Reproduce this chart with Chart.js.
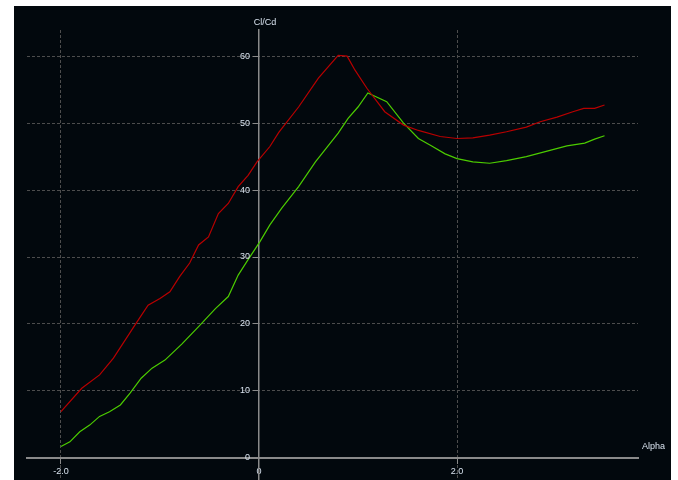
<!DOCTYPE html>
<html>
<head>
<meta charset="utf-8">
<title>Cl/Cd vs Alpha</title>
<script src="https://cdn.jsdelivr.net/npm/chart.js@4.4.1/dist/chart.umd.min.js"></script>
<style>
  html, body { margin: 0; padding: 0; background: #ffffff; overflow: hidden; }
  #wrap { position: absolute; left: 14px; top: 6px; width: 657px; height: 474px; background: #02080d; }
</style>
</head>
<body>
<div id="wrap"><canvas id="polarChart" width="657" height="474"></canvas></div>
<script>
// Cl/Cd polars, two runs
const alphaRed = [-2.0, -1.79, -1.61, -1.47, -1.25, -1.12, -1.0, -0.9, -0.8, -0.7, -0.61, -0.51, -0.41, -0.31, -0.21, -0.11, -0.02, 0.11, 0.2, 0.4, 0.6, 0.8, 0.89, 0.97, 1.09, 1.27, 1.46, 1.61, 1.83, 2.0, 2.16, 2.33, 2.5, 2.7, 2.84, 3.01, 3.17, 3.28, 3.39, 3.49];
const clcdRed = [6.9, 10.4, 12.4, 14.9, 19.9, 22.8, 23.8, 24.8, 27.1, 29.1, 31.8, 33.0, 36.5, 38.0, 40.5, 42.2, 44.2, 46.5, 48.6, 52.4, 56.7, 60.1, 60.0, 57.9, 55.2, 51.7, 49.7, 48.9, 48.0, 47.7, 47.8, 48.2, 48.7, 49.4, 50.2, 50.9, 51.7, 52.2, 52.2, 52.7];

const alphaGreen = [-2.0, -1.91, -1.81, -1.71, -1.61, -1.51, -1.4, -1.3, -1.19, -1.08, -0.95, -0.78, -0.61, -0.44, -0.31, -0.21, -0.11, 0.01, 0.11, 0.23, 0.4, 0.57, 0.8, 0.9, 1.0, 1.1, 1.29, 1.46, 1.61, 1.74, 1.88, 2.0, 2.16, 2.33, 2.5, 2.7, 2.91, 3.11, 3.29, 3.39, 3.49];
const clcdGreen = [1.7, 2.4, 3.9, 4.9, 6.2, 6.9, 7.9, 9.7, 11.9, 13.4, 14.6, 17.0, 19.6, 22.3, 24.1, 27.3, 29.6, 32.3, 34.8, 37.3, 40.5, 44.2, 48.5, 50.7, 52.4, 54.5, 53.2, 50.0, 47.7, 46.6, 45.4, 44.7, 44.2, 44.0, 44.4, 45.0, 45.8, 46.6, 47.0, 47.6, 48.1];

const xTicks = [-2, 0, 2];
const yTicks = [0, 10, 20, 30, 40, 50, 60];

const labelFont = { family: 'Liberation Sans', size: 9 };
const labelColor = '#d8e2ee';
const axisColor = '#8a8a8a';
const gridColor = '#4d4d4d';

function toPoints(xs, ys) {
  return xs.map((x, i) => ({ x: x, y: ys[i] }));
}

// centred axes: no extra padding around the plot
function noPadding(scale) {
  scale.paddingTop = 0;
  scale.paddingBottom = 0;
  scale.paddingLeft = 0;
  scale.paddingRight = 0;
}

// y tick labels left of the axis line, plus the two axis titles
const axisText = {
  id: 'axisText',
  afterDraw(chart) {
    const c = chart.ctx;
    const xs = chart.scales.x;
    const ys = chart.scales.y;
    const x0 = xs.getPixelForValue(0);
    c.save();
    c.font = '9px "Liberation Sans"';
    c.fillStyle = labelColor;
    c.textBaseline = 'middle';
    c.textAlign = 'right';
    ys.ticks.forEach((t) => {
      c.fillText(String(t.value), x0 - 9, ys.getPixelForValue(t.value));
    });
    c.textAlign = 'center';
    c.fillText('Cl/Cd', x0 + 6, chart.chartArea.top - 7);
    c.textAlign = 'left';
    c.fillText('Alpha', chart.chartArea.right + 4, ys.getPixelForValue(0) - 11);
    c.restore();
  }
};

const ctx = document.getElementById('polarChart').getContext('2d');

const myChart = new Chart(ctx, {
  type: 'scatter',
  data: {
    datasets: [
      {
        label: 'Polar 1',
        data: toPoints(alphaRed, clcdRed),
        showLine: true,
        borderColor: '#b80000',
        borderWidth: 1.2,
        pointRadius: 0,
        tension: 0,
      },
      {
        label: 'Polar 2',
        data: toPoints(alphaGreen, clcdGreen),
        showLine: true,
        borderColor: '#4ccc00',
        borderWidth: 1.2,
        pointRadius: 0,
        tension: 0,
      },
    ],
  },
  options: {
    responsive: false,
    animation: false,
    devicePixelRatio: 1,
    layout: { padding: { left: 13, right: 33, top: 24, bottom: 0 } },
    plugins: {
      legend: { display: false },
      tooltip: { enabled: false },
    },
    scales: {
      x: {
        type: 'linear',
        position: { y: 0 },
        min: -2.343,
        max: 3.828,
        afterBuildTicks: (scale) => { scale.ticks = xTicks.map((v) => ({ value: v })); },
        afterFit: noPadding,
        ticks: {
          color: labelColor,
          font: labelFont,
          maxRotation: 0,
          callback: (v) => (v === 0 ? '0' : v.toFixed(1)),
        },
        grid: { color: gridColor, tickColor: axisColor, tickLength: 5, tickBorderDash: [] },
        border: { color: axisColor, width: 2, dash: [3, 2] },
      },
      y: {
        type: 'linear',
        position: { x: 0 },
        min: -3.3,
        max: 63.9,
        afterBuildTicks: (scale) => { scale.ticks = yTicks.map((v) => ({ value: v })); },
        afterFit: noPadding,
        ticks: { display: false },
        grid: { color: gridColor, tickColor: axisColor, tickLength: 5, tickBorderDash: [] },
        border: { color: axisColor, width: 1.5, dash: [3, 2] },
      },
    },
  },
  plugins: [axisText],
});
</script>
</body>
</html>
